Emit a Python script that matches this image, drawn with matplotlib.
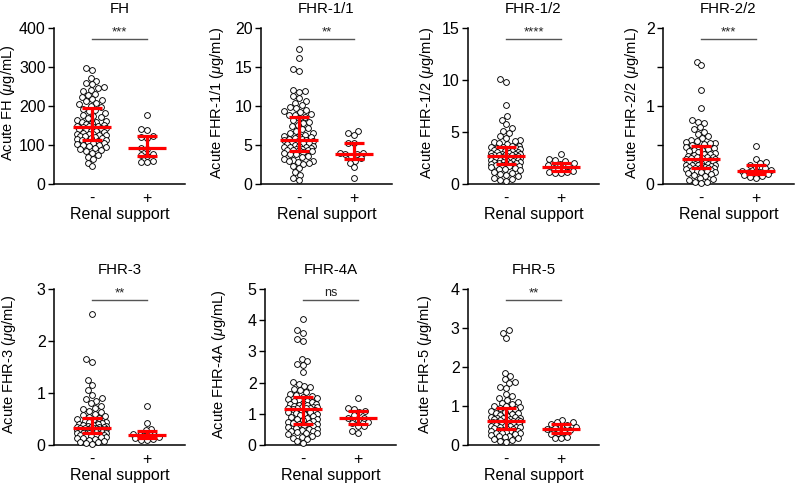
import numpy as np
import matplotlib
matplotlib.use("Agg")
import matplotlib.pyplot as plt
from matplotlib.ticker import MultipleLocator

plt.rcParams['font.family'] = ['Liberation Sans', 'DejaVu Sans']
plt.rcParams['mathtext.fontset'] = 'custom'
plt.rcParams['mathtext.rm'] = 'Liberation Sans'
plt.rcParams['mathtext.it'] = 'Liberation Sans:italic'

groups = ["-", "+"]
xlabel = "Renal support"

titles = ["FH", "FHR-1/1", "FHR-1/2", "FHR-2/2", "FHR-3", "FHR-4A", "FHR-5"]
ylabels = ["Acute FH ($\\mu$g/mL)", "Acute FHR-1/1 ($\\mu$g/mL)", "Acute FHR-1/2 ($\\mu$g/mL)",
           "Acute FHR-2/2 ($\\mu$g/mL)", "Acute FHR-3 ($\\mu$g/mL)", "Acute FHR-4A ($\\mu$g/mL)",
           "Acute FHR-5 ($\\mu$g/mL)"]
significance = ["***", "**", "****", "***", "**", "ns", "**"]
ymax = [400, 20, 15, 2, 3, 5, 4]
ystep = [100, 5, 5, 1, 1, 1, 1]
yminor = [None, None, None, 0.5, None, None, None]

fh_minus = [298, 293, 272, 265, 260, 256, 250, 245, 241, 238, 232, 228, 222, 219, 216, 212, 208, 204, 200, 197,
            193, 190, 186, 182, 178, 175, 172, 168, 165, 162, 160, 158, 156, 154, 152, 150, 149, 148, 147, 146,
            144, 143, 141, 139, 137, 135, 133, 131, 129, 128, 127, 126, 125, 124, 122, 120, 118, 117, 115, 114,
            112, 110, 108, 106, 104, 102, 100, 99, 97, 95, 93, 91, 88, 85, 80, 75, 70, 63, 55, 45]
fh_plus = [178, 142, 138, 124, 121, 119, 93, 90, 76, 75, 72, 58, 57, 56]

fhr11_minus = [17.3, 16.2, 14.7, 14.5, 12.1, 11.9, 11.8, 11.3, 11.0, 10.7, 10.4, 10.1, 9.9, 9.7, 9.5, 9.3, 9.2, 9.0, 8.9, 8.8,
               8.6, 8.4, 8.2, 8.0, 7.8, 7.6, 7.4, 7.2, 7.0, 6.8, 6.6, 6.5, 6.3, 6.2, 6.1, 6.0, 5.9, 5.8, 5.8, 5.7,
               5.6, 5.5, 5.5, 5.4, 5.3, 5.2, 5.1, 5.0, 4.9, 4.9, 4.8, 4.7, 4.7, 4.6, 4.5, 4.5, 4.4, 4.4, 4.3, 4.3,
               4.2, 4.1, 4.0, 3.9, 3.8, 3.6, 3.4, 3.2, 3.1, 3.0, 2.9, 2.8, 2.7, 2.6, 2.3, 2.0, 1.5, 1.2, 0.8, 0.5]
fhr11_plus = [6.8, 6.5, 6.3, 5.3, 5.2, 4.0, 4.0, 3.9, 3.8, 3.6, 3.3, 3.0, 2.7, 2.2, 0.8]

fhr12_minus = [10.1, 9.8, 7.6, 6.5, 6.2, 5.8, 5.4, 5.1, 4.9, 4.6, 4.4, 4.2, 4.1, 4.0, 3.9, 3.8, 3.7, 3.7, 3.6, 3.6,
               3.5, 3.5, 3.4, 3.4, 3.3, 3.3, 3.2, 3.2, 3.1, 3.1, 3.0, 3.0, 2.9, 2.9, 2.9, 2.8, 2.8, 2.8, 2.75, 2.73,
               2.7, 2.65, 2.6, 2.55, 2.5, 2.5, 2.45, 2.4, 2.35, 2.3, 2.3, 2.25, 2.2, 2.15, 2.1, 2.1, 2.05, 2.0, 1.98, 1.95,
               1.9, 1.85, 1.8, 1.8, 1.75, 1.7, 1.6, 1.5, 1.45, 1.4, 1.3, 1.2, 1.1, 1.0, 0.9, 0.8, 0.6, 0.5, 0.4, 0.3]
fhr12_plus = [2.9, 2.4, 2.3, 2.2, 2.0, 1.9, 1.8, 1.7, 1.55, 1.4, 1.3, 1.25, 1.2, 1.15, 1.1, 1.05]

fhr22_minus = [1.57, 1.52, 1.2, 0.98, 0.82, 0.80, 0.78, 0.73, 0.70, 0.67, 0.64, 0.61, 0.59, 0.57, 0.55, 0.54, 0.53, 0.52, 0.51, 0.50,
               0.48, 0.47, 0.46, 0.45, 0.44, 0.43, 0.42, 0.41, 0.40, 0.39, 0.38, 0.37, 0.36, 0.35, 0.35, 0.34, 0.34, 0.33, 0.33, 0.32,
               0.32, 0.31, 0.30, 0.30, 0.29, 0.28, 0.28, 0.27, 0.26, 0.26, 0.25, 0.25, 0.24, 0.24, 0.23, 0.23, 0.22, 0.22, 0.21, 0.21,
               0.20, 0.20, 0.19, 0.19, 0.18, 0.18, 0.17, 0.17, 0.16, 0.15, 0.14, 0.13, 0.12, 0.10, 0.08, 0.06, 0.05, 0.03, 0.02, 0.01]
fhr22_plus = [0.49, 0.32, 0.28, 0.27, 0.25, 0.22, 0.20, 0.18, 0.17, 0.16, 0.15, 0.14, 0.13, 0.12, 0.10, 0.09, 0.08]

fhr3_minus = [2.52, 1.65, 1.60, 1.25, 1.16, 1.05, 0.97, 0.90, 0.88, 0.85, 0.80, 0.75, 0.72, 0.70, 0.66, 0.63, 0.60, 0.58, 0.56, 0.54,
              0.52, 0.50, 0.48, 0.46, 0.45, 0.44, 0.42, 0.41, 0.40, 0.39, 0.38, 0.37, 0.36, 0.35, 0.35, 0.34, 0.34, 0.33, 0.33, 0.32,
              0.32, 0.31, 0.31, 0.30, 0.30, 0.29, 0.29, 0.28, 0.28, 0.27, 0.27, 0.26, 0.26, 0.26, 0.25, 0.25, 0.25, 0.24, 0.24, 0.24,
              0.23, 0.23, 0.22, 0.21, 0.20, 0.20, 0.19, 0.18, 0.17, 0.16, 0.15, 0.14, 0.13, 0.12, 0.10, 0.08, 0.06, 0.05, 0.03, 0.02]
fhr3_plus = [0.75, 0.42, 0.30, 0.28, 0.22, 0.20, 0.19, 0.18, 0.17, 0.15, 0.14, 0.12, 0.10, 0.09]

fhr4a_minus = [4.05, 3.70, 3.60, 3.40, 3.32, 2.75, 2.68, 2.60, 2.55, 2.35, 2.02, 1.95, 1.90, 1.85, 1.80, 1.75, 1.70, 1.65, 1.60, 1.57,
               1.53, 1.50, 1.47, 1.44, 1.42, 1.40, 1.38, 1.36, 1.33, 1.31, 1.29, 1.27, 1.25, 1.23, 1.22, 1.21, 1.20, 1.19, 1.18, 1.17,
               1.15, 1.12, 1.10, 1.07, 1.05, 1.02, 1.00, 0.98, 0.95, 0.92, 0.90, 0.87, 0.84, 0.82, 0.80, 0.77, 0.75, 0.72, 0.70, 0.68,
               0.66, 0.63, 0.60, 0.58, 0.55, 0.52, 0.50, 0.48, 0.46, 0.44, 0.42, 0.40, 0.37, 0.34, 0.30, 0.27, 0.23, 0.18, 0.12, 0.07]
fhr4a_plus = [1.52, 1.20, 1.15, 1.10, 1.05, 0.95, 0.88, 0.85, 0.80, 0.75, 0.70, 0.62, 0.60, 0.45, 0.37]

fhr5_minus = [2.95, 2.88, 2.75, 1.85, 1.78, 1.70, 1.62, 1.58, 1.50, 1.45, 1.30, 1.25, 1.20, 1.15, 1.10, 1.07, 1.04, 1.01, 0.99, 0.97,
              0.95, 0.92, 0.90, 0.88, 0.85, 0.83, 0.81, 0.79, 0.77, 0.75, 0.73, 0.71, 0.70, 0.69, 0.68, 0.67, 0.66, 0.65, 0.64, 0.63,
              0.62, 0.61, 0.60, 0.59, 0.58, 0.57, 0.56, 0.55, 0.54, 0.53, 0.52, 0.51, 0.50, 0.49, 0.48, 0.47, 0.46, 0.45, 0.43, 0.42,
              0.40, 0.39, 0.38, 0.37, 0.36, 0.35, 0.33, 0.32, 0.31, 0.30, 0.28, 0.26, 0.24, 0.22, 0.20, 0.18, 0.16, 0.13, 0.10, 0.08]
fhr5_plus = [0.65, 0.60, 0.58, 0.55, 0.52, 0.50, 0.45, 0.43, 0.40, 0.38, 0.33, 0.30, 0.28, 0.20, 0.17, 0.17]

data_minus = [fh_minus, fhr11_minus, fhr12_minus, fhr22_minus, fhr3_minus, fhr4a_minus, fhr5_minus]
data_plus = [fh_plus, fhr11_plus, fhr12_plus, fhr22_plus, fhr3_plus, fhr4a_plus, fhr5_plus]

W, H = 796, 484
fig = plt.figure(figsize=(W / 100, H / 100), dpi=100)

# axes boxes in pixels: left, top
boxes = [(54, 28), (261, 28), (468, 28), (663, 28), (54, 289), (265, 289), (468, 289)]
# y-label right edge offset from the y axis, pixels
ylab_off = [-37, -35, -32, -22, -36, -37, -34]
AW, AH = 131, 156
XL = (-0.69, 1.69)
MARK_D = 5.8   # px marker diameter
SEP = 0.95     # desired centre distance as fraction of diameter
MAXW = 15.5    # px max half-width of swarm (centres)


def swarm(vals, px_per_unit_y, px_per_unit_x, d):
    vals = np.asarray(vals, float)
    ypx = vals * px_per_unit_y
    order = np.argsort(vals)
    placed = []
    xs = np.zeros(len(vals))
    step = d * 0.25
    nmax = int(MAXW / step)
    cands = sorted(np.arange(-nmax, nmax + 1) * step, key=lambda c: (abs(c), c))
    for i in order:
        y = ypx[i]
        near = [(px, py) for (px, py) in placed if abs(py - y) < d * 1.2]
        best = None
        bestscore = -1.0
        for c in cands:
            if near:
                md = min(np.hypot(px - c, py - y) for (px, py) in near)
            else:
                md = 1e9
            if md >= d * SEP:
                best = c
                break
            if md > bestscore + 1e-9:
                bestscore = md
                best = c
        placed.append((best, y))
        xs[i] = best / px_per_unit_x
    return xs


for i in range(7):
    l, t = boxes[i]
    ax = fig.add_axes([l / W, (H - t - AH) / H, AW / W, AH / H])
    ax.set_xlim(*XL)
    ax.set_ylim(0, ymax[i])
    ppx = AW / (XL[1] - XL[0])
    ppy = AH / ymax[i]
    for g, vals in enumerate([data_minus[i], data_plus[i]]):
        off = swarm(vals, ppy, ppx, MARK_D)
        ax.scatter(g + off, vals, s=(MARK_D * 0.72) ** 2, facecolor='white', edgecolor='black',
                   linewidth=0.65, zorder=3, clip_on=False)
        q1, med, q3 = np.percentile(vals, [25, 50, 75])
        ax.plot([g - 0.34, g + 0.34], [med, med], color='#ff0000', lw=2.3, zorder=4, solid_capstyle='butt')
        ax.plot([g, g], [q1, q3], color='#ff0000', lw=2.3, zorder=4, solid_capstyle='butt')
        for q in (q1, q3):
            ax.plot([g - 0.18, g + 0.18], [q, q], color='#ff0000', lw=2.3, zorder=4, solid_capstyle='butt')
    # significance bar
    yb = ymax[i] * 0.93
    ax.plot([0, 1], [yb, yb], color='#555555', lw=1.0, clip_on=False)
    ax.text(0.5, yb + ymax[i] * 0.005, significance[i], ha='center', va='bottom',
            fontsize=9.5 if significance[i] != 'ns' else 9, color='#222222')
    ax.spines['top'].set_visible(False)
    ax.spines['right'].set_visible(False)
    ax.spines['left'].set_linewidth(1.1)
    ax.spines['bottom'].set_linewidth(1.1)
    ax.set_xticks([0, 1])
    ax.set_xticklabels(groups, fontsize=11.5)
    ax.tick_params(axis='x', length=0, pad=5)
    ax.yaxis.set_major_locator(MultipleLocator(ystep[i]))
    if yminor[i]:
        ax.yaxis.set_minor_locator(MultipleLocator(yminor[i]))
        ax.tick_params(axis='y', which='minor', length=4, width=1.0)
    ax.tick_params(axis='y', which='major', length=4, width=1.0, labelsize=11.5, pad=2)
    ax.set_xlabel(xlabel, fontsize=11.5, labelpad=1)
    ax.set_ylabel(ylabels[i], fontsize=10.5)
    ax.yaxis.set_label_coords(ylab_off[i] / AW, 0.52)
    ax.set_title(titles[i], fontsize=10.8, pad=11)

fig.savefig("out.png", dpi=100)
